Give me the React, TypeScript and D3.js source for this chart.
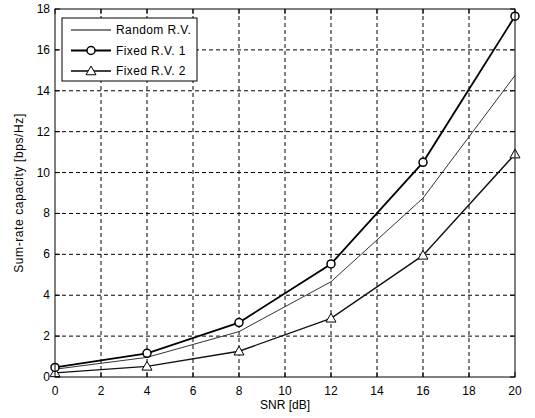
import React from "react";
import * as d3 from "d3";

// SNR points (dB)
const snr = [0, 4, 8, 12, 16, 20];
// sum-rate capacity
const randomRV = [0.38, 0.96, 2.22, 4.66, 8.75, 14.75];
const fixedRV1 = [0.47, 1.16, 2.66, 5.53, 10.5, 17.65];
const fixedRV2 = [0.2, 0.52, 1.26, 2.87, 5.95, 10.9];

const xTicks = [0, 2, 4, 6, 8, 10, 12, 14, 16, 18, 20];
const yTicks = [0, 2, 4, 6, 8, 10, 12, 14, 16, 18];

const legendLabels = ["Random R.V.", "Fixed R.V. 1", "Fixed R.V. 2"];

const W = 535, H = 418;
const margin = { top: 9, right: 20, bottom: 41, left: 55 };
const font = "'Liberation Sans', Arial, sans-serif";

const App = () => {
    const x = d3.scaleLinear().domain([0, 20]).range([margin.left, W - margin.right]);
    const y = d3.scaleLinear().domain([0, 18]).range([H - margin.bottom, margin.top]);

    const line = d3.line<number>()
        .x((d, i) => x(snr[i]))
        .y((d) => y(d));

    const x0 = x(0), x1 = x(20), y0 = y(0), y1 = y(18);
    const triangle = (cx: number, cy: number, r = 5) =>
        `M${cx},${cy - r}L${cx + r},${cy + r * 0.75}L${cx - r},${cy + r * 0.75}Z`;

    return (
        <svg width={W} height={H} style={{ position: "absolute", left: 0, top: 0, background: "#fff" }}>
            {/* grid */}
            <g stroke="#000" strokeWidth={1} strokeDasharray="4,3">
                {xTicks.slice(1, -1).map((t) => (
                    <line key={"gx" + t} x1={x(t)} x2={x(t)} y1={y0} y2={y1} />
                ))}
                {yTicks.slice(1, -1).map((t) => (
                    <line key={"gy" + t} x1={x0} x2={x1} y1={y(t)} y2={y(t)} />
                ))}
            </g>

            {/* ticks, inward on all sides */}
            <g stroke="#000" strokeWidth={1}>
                {xTicks.map((t) => (
                    <g key={"tx" + t}>
                        <line x1={x(t)} x2={x(t)} y1={y0} y2={y0 - 5} />
                        <line x1={x(t)} x2={x(t)} y1={y1} y2={y1 + 5} />
                    </g>
                ))}
                {yTicks.map((t) => (
                    <g key={"ty" + t}>
                        <line x1={x0} x2={x0 + 5} y1={y(t)} y2={y(t)} />
                        <line x1={x1} x2={x1 - 5} y1={y(t)} y2={y(t)} />
                    </g>
                ))}
            </g>

            {/* series */}
            <path d={line(randomRV) || ""} fill="none" stroke="#333" strokeWidth={1} />
            <path d={line(fixedRV2) || ""} fill="none" stroke="#111" strokeWidth={1.4} />
            <path d={line(fixedRV1) || ""} fill="none" stroke="#000" strokeWidth={1.8} />
            {fixedRV2.map((v, i) => (
                <path key={"m2" + i} d={triangle(x(snr[i]), y(v))} fill="#fff" stroke="#000" strokeWidth={1} />
            ))}
            {fixedRV1.map((v, i) => (
                <circle key={"m1" + i} cx={x(snr[i])} cy={y(v)} r={4} fill="#fff" stroke="#000" strokeWidth={1.5} />
            ))}

            {/* axes box */}
            <rect x={x0} y={y1} width={x1 - x0} height={y0 - y1} fill="none" stroke="#000" strokeWidth={1} />

            {/* tick labels */}
            <g fontFamily={font} fontSize={12} fill="#000">
                {xTicks.map((t) => (
                    <text key={"lx" + t} x={x(t)} y={y0 + 18} textAnchor="middle">{t}</text>
                ))}
                {yTicks.map((t) => (
                    <text key={"ly" + t} x={x0 - 5} y={y(t) + 4} textAnchor="end">{t}</text>
                ))}
                <text x={(x0 + x1) / 2} y={H - 9} textAnchor="middle" fontSize={12}>SNR [dB]</text>
                <text transform={`translate(23,${(y0 + y1) / 2}) rotate(-90)`} textAnchor="middle"
                    fontSize={12} letterSpacing={0.6}>
                    Sum-rate capacity [bps/Hz]
                </text>
            </g>

            {/* legend */}
            <g>
                <rect x={62} y={18} width={135} height={63} fill="#fff" stroke="#000" strokeWidth={1} />
                {legendLabels.map((lab, i) => {
                    const ly = 30 + i * 20.5;
                    return (
                        <g key={lab}>
                            <line x1={71} x2={111} y1={ly} y2={ly} stroke="#000"
                                strokeWidth={i === 0 ? 1.2 : i === 1 ? 1.8 : 1.4} />
                            {i === 1 && <circle cx={91} cy={ly} r={4} fill="#fff" stroke="#000" strokeWidth={1.5} />}
                            {i === 2 && <path d={triangle(91, ly)} fill="#fff" stroke="#000" strokeWidth={1} />}
                            <text x={116} y={ly + 4} fontFamily={font} fontSize={12} letterSpacing={0.4}>{lab}</text>
                        </g>
                    );
                })}
            </g>
        </svg>
    );
};

export default App;
